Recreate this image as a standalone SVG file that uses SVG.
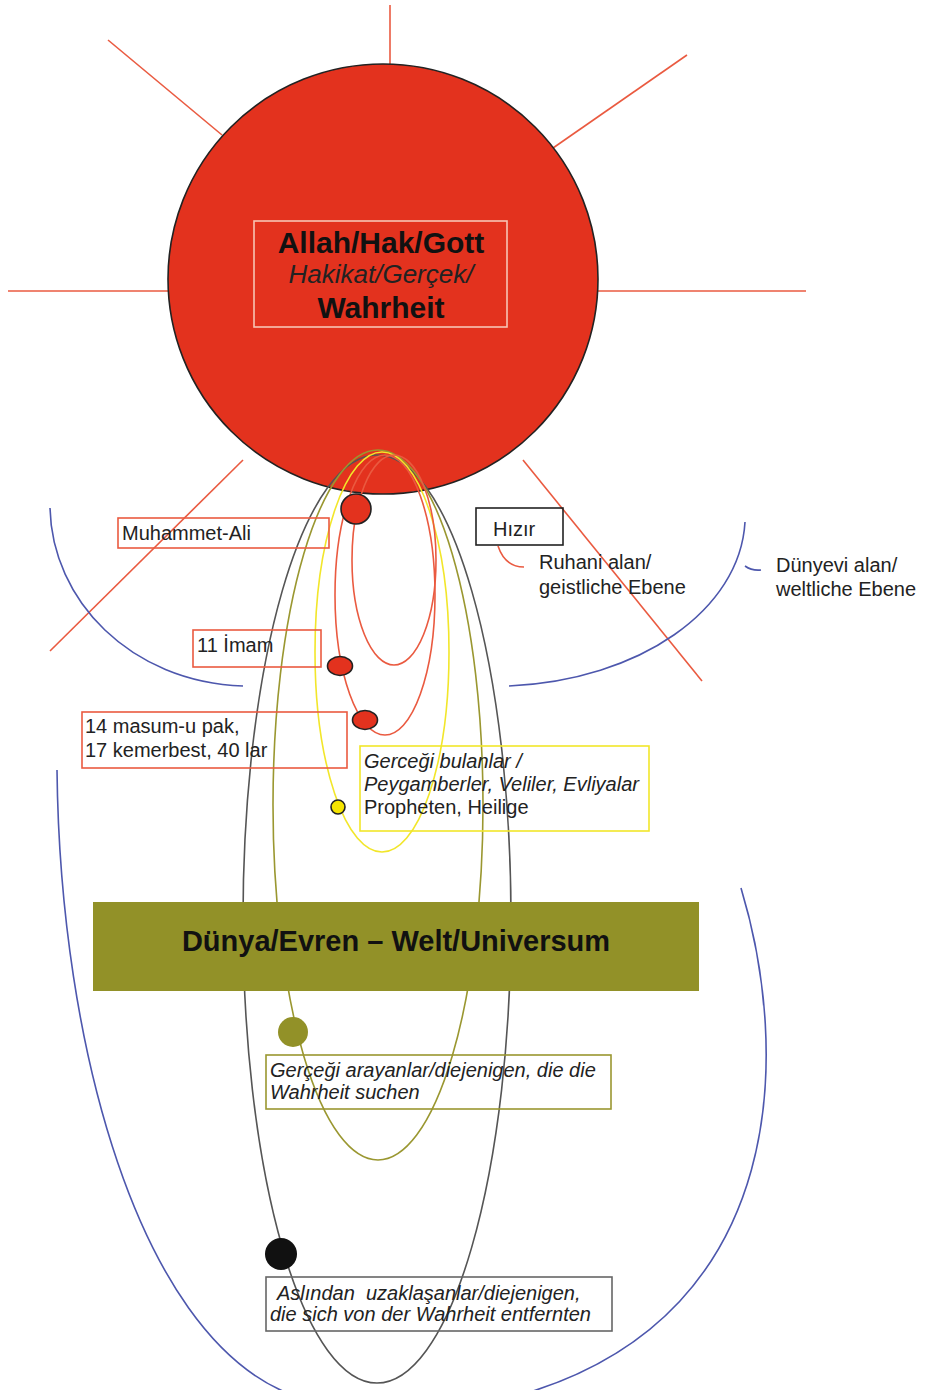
<svg xmlns="http://www.w3.org/2000/svg" width="926" height="1390" viewBox="0 0 926 1390">
<style>
.ray{stroke:#ea5a40;stroke-width:1.6;fill:none}
.blue{stroke:#4d57ad;stroke-width:1.6;fill:none}
.loop{fill:none;stroke-width:1.6}
.t{font-family:"Liberation Sans",Arial,sans-serif;font-size:20px;fill:#222}
.i{font-style:italic}
.box{fill:none;stroke-width:1.6}
</style>
<rect width="926" height="1390" fill="#fff"/>
<g id="rays">
<line class="ray" x1="390" y1="5" x2="390" y2="64"/>
<line class="ray" x1="108" y1="40" x2="222" y2="135"/>
<line class="ray" x1="687" y1="55" x2="553" y2="148"/>
<line class="ray" x1="8" y1="291" x2="168" y2="291"/>
<line class="ray" x1="598" y1="291" x2="806" y2="291"/>
<line class="ray" x1="243" y1="460" x2="50" y2="651"/>
<line class="ray" x1="523" y1="460" x2="702" y2="681"/>
</g>
<g id="sun">
<circle cx="383" cy="279" r="215" fill="#e3321e" stroke="#222" stroke-width="1.6"/>
<rect x="254" y="221" width="253" height="106" fill="none" stroke="#f7c4b4" stroke-width="1.6"/>
<text x="381" y="253" text-anchor="middle" font-family="Liberation Sans,Arial,sans-serif" font-size="30" font-weight="bold" fill="#111">Allah/Hak/Gott</text>
<text x="381" y="283" text-anchor="middle" font-family="Liberation Sans,Arial,sans-serif" font-size="26" font-style="italic" fill="#222">Hakikat/Gerçek/</text>
<text x="381" y="318" text-anchor="middle" font-family="Liberation Sans,Arial,sans-serif" font-size="30" font-weight="bold" fill="#111">Wahrheit</text>
</g>
<g id="connectors">
<path class="blue" d="M50,508 C52,600 130,682 243,686"/>
<path class="blue" d="M509,686 C640,680 740,610 745,522"/>
<path class="blue" d="M57,770 C60,1050 140,1330 285,1392"/>
<path class="blue" d="M741,888 C790,1050 790,1310 530,1392"/>
<path class="blue" d="M745,566 Q752,571 761,570"/>
<path class="ray" d="M498,546 Q505,567 524,567"/>
<ellipse class="loop" cx="377" cy="919" rx="134" ry="464" stroke="#555"/>
<ellipse class="loop" cx="378" cy="805" rx="105" ry="355" stroke="#9a9730"/>
<ellipse class="loop" cx="382" cy="652" rx="67" ry="200" stroke="#f2e62a"/>
<ellipse class="loop" cx="385" cy="595" rx="50" ry="140" stroke="#ea5a40"/>
<ellipse class="loop" cx="394" cy="560" rx="42" ry="105" stroke="#ea5a40"/>
</g>
<g id="welt">
<rect x="93" y="902" width="606" height="89" fill="#929128"/>
<text x="396" y="951" text-anchor="middle" font-family="Liberation Sans,Arial,sans-serif" font-size="29" font-weight="bold" fill="#111">Dünya/Evren – Welt/Universum</text>
</g>
<g id="muhammet-ali">
<rect class="box" x="118" y="518" width="211" height="30" stroke="#ea5a40"/>
<text class="t" x="122" y="540">Muhammet-Ali</text>
<circle cx="356" cy="509" r="15" fill="#e3321e" stroke="#222" stroke-width="1.6"/>
</g>
<g id="imam">
<rect class="box" x="193" y="630" width="128" height="37" stroke="#ea5a40"/>
<text class="t" x="197" y="652">11 İmam</text>
<ellipse cx="340" cy="666" rx="12.5" ry="9.5" fill="#e3321e" stroke="#222" stroke-width="1.6"/>
</g>
<g id="masum">
<rect class="box" x="82" y="712" width="265" height="56" stroke="#ea5a40"/>
<text class="t" x="85" y="733">14 masum-u pak,</text>
<text class="t" x="85" y="757">17 kemerbest, 40 lar</text>
<ellipse cx="365" cy="720" rx="12.5" ry="9.5" fill="#e3321e" stroke="#222" stroke-width="1.6"/>
</g>
<g id="hizir">
<rect class="box" x="476" y="508" width="87" height="37" stroke="#222"/>
<text class="t" x="493" y="536">Hızır</text>
</g>
<g id="ruhani">
<text class="t" x="539" y="569">Ruhani alan/</text>
<text class="t" x="539" y="594">geistliche Ebene</text>
</g>
<g id="dunyevi">
<text class="t" x="776" y="572">Dünyevi alan/</text>
<text class="t" x="776" y="596">weltliche Ebene</text>
</g>
<g id="bulanlar">
<rect class="box" x="360" y="746" width="289" height="85" stroke="#f2e62a"/>
<text class="t i" x="364" y="768">Gerceği bulanlar /</text>
<text class="t i" x="364" y="791">Peygamberler, Veliler, Evliyalar</text>
<text class="t" x="364" y="814">Propheten, Heilige</text>
<circle cx="338" cy="807" r="7" fill="#f5e400" stroke="#222" stroke-width="1.6"/>
</g>
<g id="arayanlar">
<circle cx="293" cy="1032" r="15" fill="#929128"/>
<rect class="box" x="266" y="1055" width="345" height="54" stroke="#9a9730"/>
<text class="t i" x="270" y="1077">Gerçeği arayanlar/diejenigen, die die</text>
<text class="t i" x="270" y="1099">Wahrheit suchen</text>
</g>
<g id="uzaklasanlar">
<circle cx="281" cy="1254" r="16" fill="#111"/>
<rect class="box" x="266" y="1277" width="346" height="54" stroke="#666"/>
<text class="t i" x="277" y="1300" xml:space="preserve" style="white-space:pre">Aslından  uzaklaşanlar/diejenigen,</text>
<text class="t i" x="270" y="1321">die sich von der Wahrheit entfernten</text>
</g>
</svg>
